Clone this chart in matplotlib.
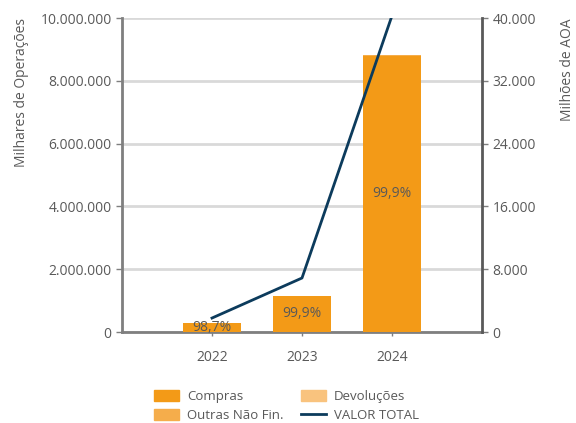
import numpy as np
import matplotlib.pyplot as plt
from matplotlib.patches import Patch
from matplotlib.lines import Line2D
from matplotlib.ticker import FuncFormatter

plt.rcParams['font.family'] = ['Open Sans', 'DejaVu Sans']

anos = ['2022', '2023', '2024']
compras = [287000, 1150000, 8800000]
devolucoes = [0, 0, 0]
outras = [3700, 1200, 8800]
valor_total = [1780, 6880, 40300]
pct_labels = ['98,7%', '99,9%', '99,9%']

cor_compras = '#F39A17'
cor_devol = '#F9C37E'
cor_outras = '#F5AD4B'
cor_linha = '#0C3B5C'
cor_texto = '#595959'
cor_eixo = '#7F7F7F'
cor_grelha = '#D9D9D9'


def fmt_pontos(v, pos):
    return '{:,.0f}'.format(v).replace(',', '.')


fig = plt.figure(figsize=(5.76, 4.23), dpi=100)
ax = fig.add_axes([0.2118, 0.2151, 0.625, 0.7423])
ax2 = ax.twinx()

x = np.arange(len(anos))
larg = 0.64
ax.bar(x, compras, larg, color=cor_compras, zorder=3)
b2 = np.array(compras)
ax.bar(x, outras, larg, bottom=b2, color=cor_outras, zorder=3)
ax.bar(x, devolucoes, larg, bottom=b2 + np.array(outras), color=cor_devol, zorder=3)

for xi, v, t in zip(x, compras, pct_labels):
    ax.text(xi, v / 2, t, ha='center', va='center', fontsize=10, color=cor_texto, zorder=5)

ax2.plot(x, valor_total, color=cor_linha, lw=2, zorder=4, clip_on=True)

ax.set_xlim(-1, 3)
ax.set_ylim(0, 10000000)
ax.set_yticks(np.arange(0, 10000001, 2000000))
ax.yaxis.set_major_formatter(FuncFormatter(fmt_pontos))
ax2.set_ylim(0, 40000)
ax2.set_yticks(np.arange(0, 40001, 8000))
ax2.yaxis.set_major_formatter(FuncFormatter(fmt_pontos))

ax.set_xticks(x)
ax.set_xticklabels(anos)

ax.grid(axis='y', color=cor_grelha, lw=2, zorder=0)
ax.set_axisbelow(True)

for a in (ax, ax2):
    for s in ('top',):
        a.spines[s].set_visible(False)
    a.tick_params(colors=cor_eixo, labelcolor=cor_texto, labelsize=10, length=4, width=1)
ax.spines['right'].set_visible(False)
ax2.spines['left'].set_visible(False)
ax2.spines['bottom'].set_visible(False)
ax.spines['left'].set_color(cor_eixo)
ax.spines['left'].set_linewidth(2)
ax.spines['bottom'].set_color(cor_eixo)
ax.spines['bottom'].set_linewidth(2)
ax2.spines['right'].set_color('#595959')
ax2.spines['right'].set_linewidth(2)
ax.tick_params(axis='x', length=3, pad=10)

ax.set_ylabel('Milhares de Operações', color=cor_texto, fontsize=10, labelpad=8, loc='top')
ax2.set_ylabel('Milhões de AOA', color=cor_texto, fontsize=10, labelpad=17, loc='top')

handles = [
    Patch(color=cor_compras, label='Compras'),
    Patch(color=cor_outras, label='Outras Não Fin.'),
    Patch(color=cor_devol, label='Devoluções'),
    Line2D([0], [0], color=cor_linha, lw=2, label='VALOR TOTAL'),
]
leg = fig.legend(handles=handles, loc='center', ncol=2, bbox_to_anchor=(0.497, 0.04),
                 frameon=False, fontsize=9.5, labelcolor=cor_texto,
                 handlelength=1.9, handleheight=0.9, handletextpad=0.6,
                 columnspacing=1.3, labelspacing=0.5)

fig.savefig('out.png', dpi=100)
